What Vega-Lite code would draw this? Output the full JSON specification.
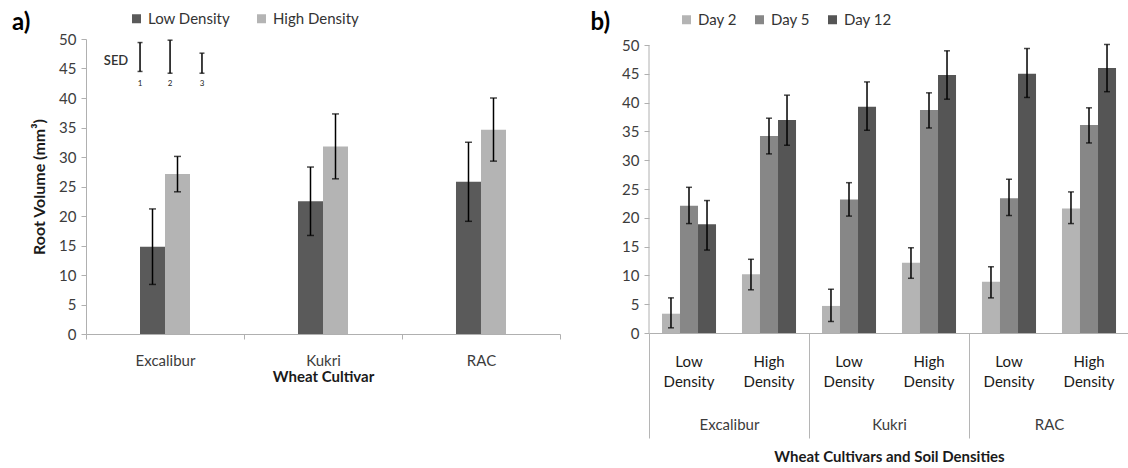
{
  "$schema": "https://vega.github.io/schema/vega-lite/v6.json",
  "background": "white",
  "padding": {"left": 11, "top": 11, "right": 0, "bottom": 0},
  "autosize": {"type": "pad"},
  "bounds": "flush",
  "spacing": 89,
  "config": {
    "font": "Lato",
    "view": {"stroke": null},
    "axis": {"labelFont": "Lato", "titleFont": "Lato", "labelFontSize": 15, "titleFontSize": 15, "labelColor": "#3c3c3c", "titleColor": "#1a1a1a", "domainColor": "#b0b0b0", "tickColor": "#b0b0b0", "grid": false},
    "axisY": {"tickSize": 5, "labelPadding": 5, "titleFontWeight": "bold", "titleFontSize": 16, "titlePadding": 11, "values": [0, 5, 10, 15, 20, 25, 30, 35, 40, 45, 50]},
    "legend": {"labelFont": "Lato", "labelFontSize": 15, "labelColor": "#333333", "padding": 0, "symbolType": "square", "symbolSize": 81, "symbolStrokeWidth": 0, "labelOffset": 4, "columnPadding": 24}
  },
  "datasets": {
    "a": [
      {"cultivar": "Excalibur", "density": "Low Density", "value": 14.8, "lo": 8.4, "hi": 21.2},
      {"cultivar": "Excalibur", "density": "High Density", "value": 27.1, "lo": 24.1, "hi": 30.1},
      {"cultivar": "Kukri", "density": "Low Density", "value": 22.5, "lo": 16.7, "hi": 28.3},
      {"cultivar": "Kukri", "density": "High Density", "value": 31.8, "lo": 26.3, "hi": 37.3},
      {"cultivar": "RAC", "density": "Low Density", "value": 25.8, "lo": 19.1, "hi": 32.5},
      {"cultivar": "RAC", "density": "High Density", "value": 34.6, "lo": 29.3, "hi": 40.0}
    ],
    "sed": [
      {"k": "1", "pos": 0.342, "lo": 44.5, "hi": 49.4, "ly": 42.3},
      {"k": "2", "pos": 0.532, "lo": 44.2, "hi": 49.8, "ly": 42.3},
      {"k": "3", "pos": 0.734, "lo": 44.2, "hi": 47.6, "ly": 42.3}
    ],
    "sedlabel": [
      {"t": "SED", "pos": 0.19, "y": 46.2}
    ],
    "b": [
      {"cultivar": "Excalibur", "density": "Low Density", "cd": "Excalibur|Low Density", "day": "Day 2", "value": 3.35, "lo": 0.9, "hi": 6.1},
      {"cultivar": "Excalibur", "density": "Low Density", "cd": "Excalibur|Low Density", "day": "Day 5", "value": 22.1, "lo": 19.0, "hi": 25.3},
      {"cultivar": "Excalibur", "density": "Low Density", "cd": "Excalibur|Low Density", "day": "Day 12", "value": 18.9, "lo": 14.4, "hi": 23.0},
      {"cultivar": "Excalibur", "density": "High Density", "cd": "Excalibur|High Density", "day": "Day 2", "value": 10.2, "lo": 7.5, "hi": 12.8},
      {"cultivar": "Excalibur", "density": "High Density", "cd": "Excalibur|High Density", "day": "Day 5", "value": 34.2, "lo": 31.1, "hi": 37.3},
      {"cultivar": "Excalibur", "density": "High Density", "cd": "Excalibur|High Density", "day": "Day 12", "value": 37.0, "lo": 32.6, "hi": 41.3},
      {"cultivar": "Kukri", "density": "Low Density", "cd": "Kukri|Low Density", "day": "Day 2", "value": 4.7, "lo": 2.0, "hi": 7.6},
      {"cultivar": "Kukri", "density": "Low Density", "cd": "Kukri|Low Density", "day": "Day 5", "value": 23.2, "lo": 20.3, "hi": 26.1},
      {"cultivar": "Kukri", "density": "Low Density", "cd": "Kukri|Low Density", "day": "Day 12", "value": 39.3, "lo": 35.2, "hi": 43.6},
      {"cultivar": "Kukri", "density": "High Density", "cd": "Kukri|High Density", "day": "Day 2", "value": 12.2, "lo": 9.5, "hi": 14.8},
      {"cultivar": "Kukri", "density": "High Density", "cd": "Kukri|High Density", "day": "Day 5", "value": 38.7, "lo": 35.6, "hi": 41.7},
      {"cultivar": "Kukri", "density": "High Density", "cd": "Kukri|High Density", "day": "Day 12", "value": 44.8, "lo": 40.6, "hi": 49.0},
      {"cultivar": "RAC", "density": "Low Density", "cd": "RAC|Low Density", "day": "Day 2", "value": 8.9, "lo": 6.1, "hi": 11.5},
      {"cultivar": "RAC", "density": "Low Density", "cd": "RAC|Low Density", "day": "Day 5", "value": 23.4, "lo": 20.4, "hi": 26.7},
      {"cultivar": "RAC", "density": "Low Density", "cd": "RAC|Low Density", "day": "Day 12", "value": 45.0, "lo": 40.9, "hi": 49.4},
      {"cultivar": "RAC", "density": "High Density", "cd": "RAC|High Density", "day": "Day 2", "value": 21.6, "lo": 19.0, "hi": 24.5},
      {"cultivar": "RAC", "density": "High Density", "cd": "RAC|High Density", "day": "Day 5", "value": 36.1, "lo": 33.0, "hi": 39.1},
      {"cultivar": "RAC", "density": "High Density", "cd": "RAC|High Density", "day": "Day 12", "value": 46.0, "lo": 41.9, "hi": 50.1}
    ],
    "yline": [
      {"cd": "Excalibur|Low Density", "lo": 0, "hi": 50}
    ]
  },
  "resolve": {"scale": {"color": "independent", "xOffset": "independent", "y": "independent"}, "legend": {"color": "independent"}, "axis": {"y": "independent"}},
  "hconcat": [
    {
      "width": 474,
      "height": 295,
      "title": {"text": "a)", "orient": "left", "angle": 0, "anchor": "end", "frame": "group", "align": "right", "baseline": "bottom", "fontSize": 24, "fontWeight": "bold", "color": "#000000", "font": "Lato", "offset": -17, "dy": -4},
      "resolve": {"scale": {"x": "independent"}, "axis": {"x": "independent"}},
      "layer": [
        {
          "data": {"name": "a"},
          "layer": [
            {
              "mark": {"type": "bar"},
              "encoding": {
                "x": {"field": "cultivar", "type": "nominal", "sort": ["Excalibur", "Kukri", "RAC"], "scale": {"paddingInner": 0.6835, "paddingOuter": 0.3418}, "axis": null},
                "xOffset": {"field": "density", "type": "nominal", "sort": ["Low Density", "High Density"], "scale": {"paddingInner": 0, "paddingOuter": 0}},
                "y": {"field": "value", "type": "quantitative", "scale": {"domain": [0, 50], "nice": false}, "axis": {"title": "Root Volume (mm³)", "values": [0, 5, 10, 15, 20, 25, 30, 35, 40, 45, 50]}},
                "color": {"field": "density", "type": "nominal", "scale": {"domain": ["Low Density", "High Density"], "range": ["#5a5a5a", "#b4b4b4"]}, "legend": {"orient": "none", "legendX": 43, "legendY": -28, "direction": "horizontal", "title": null}}
              }
            },
            {
              "mark": {"type": "rule", "color": "#000000", "strokeWidth": 1.5},
              "encoding": {
                "x": {"field": "cultivar", "type": "nominal", "sort": ["Excalibur", "Kukri", "RAC"], "axis": null},
                "xOffset": {"field": "density", "type": "nominal", "sort": ["Low Density", "High Density"]},
                "y": {"field": "lo", "type": "quantitative", "axis": {"title": "Root Volume (mm³)", "values": [0, 5, 10, 15, 20, 25, 30, 35, 40, 45, 50]}},
                "y2": {"field": "hi"}
              }
            },
            {
              "mark": {"type": "tick", "color": "#000000", "thickness": 1.5, "size": 7},
              "encoding": {
                "x": {"field": "cultivar", "type": "nominal", "sort": ["Excalibur", "Kukri", "RAC"], "axis": null},
                "xOffset": {"field": "density", "type": "nominal", "sort": ["Low Density", "High Density"]},
                "y": {"field": "lo", "type": "quantitative", "axis": {"title": "Root Volume (mm³)", "values": [0, 5, 10, 15, 20, 25, 30, 35, 40, 45, 50]}}
              }
            },
            {
              "mark": {"type": "tick", "color": "#000000", "thickness": 1.5, "size": 7},
              "encoding": {
                "x": {"field": "cultivar", "type": "nominal", "sort": ["Excalibur", "Kukri", "RAC"], "axis": null},
                "xOffset": {"field": "density", "type": "nominal", "sort": ["Low Density", "High Density"]},
                "y": {"field": "hi", "type": "quantitative", "axis": {"title": "Root Volume (mm³)", "values": [0, 5, 10, 15, 20, 25, 30, 35, 40, 45, 50]}}
              }
            }
          ]
        },
        {
          "data": {"name": "a"},
          "mark": {"type": "rule", "opacity": 0},
          "encoding": {
            "x": {"field": "cultivar", "type": "nominal", "sort": ["Excalibur", "Kukri", "RAC"], "scale": {"paddingInner": 0, "paddingOuter": 0},
                  "axis": {"orient": "bottom", "title": "Wheat Cultivar", "titleFontWeight": "bold", "titlePadding": 1, "tickBand": "extent", "tickSize": 5, "labelPadding": 14, "labelAngle": 0}}
          }
        },
        {
          "data": {"name": "sed"},
          "layer": [
            {
              "mark": {"type": "rule", "color": "#000000", "strokeWidth": 1.5},
              "encoding": {
                "x": {"field": "pos", "type": "quantitative", "scale": {"domain": [0, 3], "nice": false, "zero": false}, "axis": null},
                "y": {"field": "lo", "type": "quantitative", "axis": {"title": "Root Volume (mm³)", "values": [0, 5, 10, 15, 20, 25, 30, 35, 40, 45, 50]}},
                "y2": {"field": "hi"}
              }
            },
            {
              "mark": {"type": "tick", "color": "#000000", "thickness": 1.5, "size": 5, "orient": "horizontal"},
              "encoding": {
                "x": {"field": "pos", "type": "quantitative", "axis": null},
                "y": {"field": "lo", "type": "quantitative", "axis": {"title": "Root Volume (mm³)", "values": [0, 5, 10, 15, 20, 25, 30, 35, 40, 45, 50]}}
              }
            },
            {
              "mark": {"type": "tick", "color": "#000000", "thickness": 1.5, "size": 5, "orient": "horizontal"},
              "encoding": {
                "x": {"field": "pos", "type": "quantitative", "axis": null},
                "y": {"field": "hi", "type": "quantitative", "axis": {"title": "Root Volume (mm³)", "values": [0, 5, 10, 15, 20, 25, 30, 35, 40, 45, 50]}}
              }
            },
            {
              "mark": {"type": "text", "fontSize": 8, "font": "Lato", "color": "#222222", "baseline": "middle"},
              "encoding": {
                "x": {"field": "pos", "type": "quantitative", "axis": null},
                "y": {"field": "ly", "type": "quantitative", "axis": {"title": "Root Volume (mm³)", "values": [0, 5, 10, 15, 20, 25, 30, 35, 40, 45, 50]}},
                "text": {"field": "k"}
              }
            }
          ]
        },
        {
          "data": {"name": "sedlabel"},
          "mark": {"type": "text", "fontSize": 13, "font": "Lato", "fontWeight": 600, "color": "#333333", "baseline": "middle"},
          "encoding": {
            "x": {"field": "pos", "type": "quantitative", "scale": {"domain": [0, 3], "nice": false, "zero": false}, "axis": null},
            "y": {"field": "y", "type": "quantitative", "axis": {"title": "Root Volume (mm³)", "values": [0, 5, 10, 15, 20, 25, 30, 35, 40, 45, 50]}},
            "text": {"field": "t"}
          }
        }
      ]
    },
    {
      "width": 480,
      "height": 294,
      "title": {"text": "b)", "orient": "left", "angle": 0, "anchor": "end", "frame": "group", "align": "right", "baseline": "bottom", "fontSize": 24, "fontWeight": "bold", "color": "#000000", "font": "Lato", "offset": -8, "dy": -4},
      "resolve": {"scale": {"x": "independent"}, "axis": {"x": "independent"}},
      "layer": [
        {
          "layer": [
            {
              "data": {"name": "b"},
              "mark": {"type": "bar"},
              "encoding": {
                "x": {"field": "cd", "type": "nominal", "sort": ["Excalibur|Low Density", "Excalibur|High Density", "Kukri|Low Density", "Kukri|High Density", "RAC|Low Density", "RAC|High Density"], "scale": {"paddingInner": 0, "paddingOuter": 0},
                      "axis": {"orient": "bottom", "title": null, "ticks": false, "labelPadding": 21, "labelLineHeight": 20, "labelAngle": 0, "labelColor": "#1a1a1a", "labelExpr": "split(split(datum.value, '|')[1], ' ')"}},
                "xOffset": {"field": "day", "type": "nominal", "sort": ["Day 2", "Day 5", "Day 12"], "scale": {"paddingInner": 0, "paddingOuter": 0.72}},
                "y": {"field": "value", "type": "quantitative", "scale": {"domain": [0, 51.05], "nice": false}, "axis": {"title": null, "domain": false, "values": [0, 5, 10, 15, 20, 25, 30, 35, 40, 45, 50]}},
                "color": {"field": "day", "type": "nominal", "scale": {"domain": ["Day 2", "Day 5", "Day 12"], "range": ["#b4b4b4", "#878787", "#555555"]}, "legend": {"orient": "none", "legendX": 30, "legendY": -27, "direction": "horizontal", "title": null, "columnPadding": 15}}
              }
            },
            {
              "data": {"name": "b"},
              "mark": {"type": "rule", "color": "#000000", "strokeWidth": 1.5},
              "encoding": {
                "x": {"field": "cd", "type": "nominal", "sort": ["Excalibur|Low Density", "Excalibur|High Density", "Kukri|Low Density", "Kukri|High Density", "RAC|Low Density", "RAC|High Density"]},
                "xOffset": {"field": "day", "type": "nominal", "sort": ["Day 2", "Day 5", "Day 12"]},
                "y": {"field": "lo", "type": "quantitative", "scale": {"domain": [0, 51.05], "nice": false}, "axis": {"title": null, "domain": false, "values": [0, 5, 10, 15, 20, 25, 30, 35, 40, 45, 50]}},
                "y2": {"field": "hi"}
              }
            },
            {
              "data": {"name": "b"},
              "mark": {"type": "tick", "color": "#000000", "thickness": 1.5, "size": 6},
              "encoding": {
                "x": {"field": "cd", "type": "nominal", "sort": ["Excalibur|Low Density", "Excalibur|High Density", "Kukri|Low Density", "Kukri|High Density", "RAC|Low Density", "RAC|High Density"]},
                "xOffset": {"field": "day", "type": "nominal", "sort": ["Day 2", "Day 5", "Day 12"]},
                "y": {"field": "lo", "type": "quantitative", "scale": {"domain": [0, 51.05], "nice": false}, "axis": {"title": null, "domain": false, "values": [0, 5, 10, 15, 20, 25, 30, 35, 40, 45, 50]}}
              }
            },
            {
              "data": {"name": "b"},
              "mark": {"type": "tick", "color": "#000000", "thickness": 1.5, "size": 6},
              "encoding": {
                "x": {"field": "cd", "type": "nominal", "sort": ["Excalibur|Low Density", "Excalibur|High Density", "Kukri|Low Density", "Kukri|High Density", "RAC|Low Density", "RAC|High Density"]},
                "xOffset": {"field": "day", "type": "nominal", "sort": ["Day 2", "Day 5", "Day 12"]},
                "y": {"field": "hi", "type": "quantitative", "scale": {"domain": [0, 51.05], "nice": false}, "axis": {"title": null, "domain": false, "values": [0, 5, 10, 15, 20, 25, 30, 35, 40, 45, 50]}}
              }
            },
            {
              "data": {"name": "yline"},
              "mark": {"type": "rule", "color": "#b0b0b0", "strokeWidth": 1},
              "encoding": {
                "x": {"field": "cd", "type": "nominal", "bandPosition": 0, "sort": ["Excalibur|Low Density", "Excalibur|High Density", "Kukri|Low Density", "Kukri|High Density", "RAC|Low Density", "RAC|High Density"]},
                "y": {"field": "lo", "type": "quantitative", "scale": {"domain": [0, 51.05], "nice": false}, "axis": {"title": null, "domain": false, "values": [0, 5, 10, 15, 20, 25, 30, 35, 40, 45, 50]}},
                "y2": {"field": "hi"}
              }
            }
          ]
        },
        {
          "data": {"name": "b"},
          "mark": {"type": "rule", "opacity": 0},
          "encoding": {
            "x": {"field": "cultivar", "type": "nominal", "sort": ["Excalibur", "Kukri", "RAC"], "scale": {"paddingInner": 0, "paddingOuter": 0},
                  "axis": {"orient": "bottom", "domain": false, "title": "Wheat Cultivars and Soil Densities", "titleFontWeight": "bold", "titlePadding": 11, "tickBand": "extent", "tickSize": 105, "tickColor": "#b5b5b5", "labelPadding": -21, "labelAngle": 0}}
          }
        }
      ]
    }
  ]
}
